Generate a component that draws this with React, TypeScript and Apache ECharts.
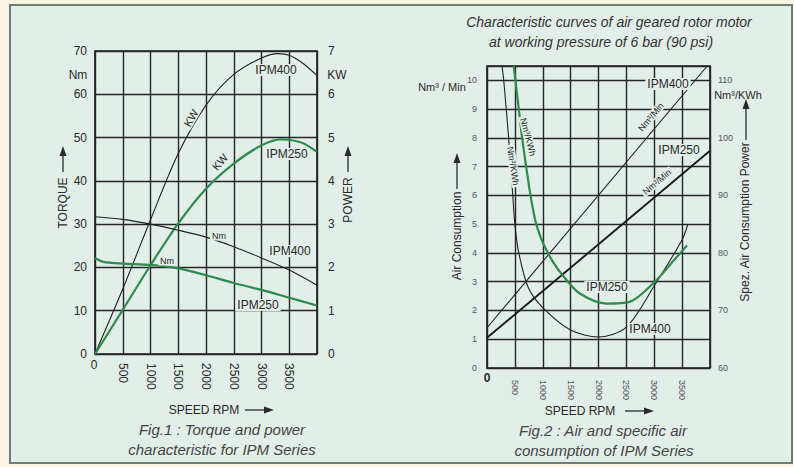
import React, { useEffect, useRef } from "react";
import * as echarts from "echarts";

// ---------- DATA ----------
const rpmTicks = [0, 500, 1000, 1500, 2000, 2500, 3000, 3500, 4000];
const torqueTicks = [0, 10, 20, 30, 40, 50, 60, 70];
const powerTicks = [0, 1, 2, 3, 4, 5, 6, 7];
const airTicks = [0, 1, 2, 3, 4, 5, 6, 7, 8, 9, 10];
const specTicks = [60, 70, 80, 90, 100, 110];

// Fig.1 power (KW) vs rpm
const kwIPM400: [number, number][] = [
  [0, 0], [500, 1.5], [1000, 3.1], [1500, 4.63], [2000, 5.75], [2500, 6.46],
  [3000, 6.84], [3300, 6.94], [3500, 6.9], [3750, 6.71], [4000, 6.43],
];
const kwIPM250: [number, number][] = [
  [0, 0], [500, 1.02], [1000, 2.05], [1500, 3.02], [2000, 3.82], [2500, 4.4],
  [3000, 4.82], [3350, 4.96], [3500, 4.95], [3750, 4.87], [4000, 4.67],
];
// Fig.1 torque (Nm) vs rpm
const nmIPM400: [number, number][] = [
  [0, 31.7], [500, 31.1], [1000, 30.0], [1500, 28.6], [2000, 27.0],
  [2500, 24.8], [3000, 22.2], [3500, 19.4], [4000, 15.9],
];
const nmIPM250: [number, number][] = [
  [0, 22.1], [150, 21.3], [500, 20.9], [1000, 20.6], [1500, 19.8],
  [2000, 18.2], [2500, 16.4], [3000, 14.8], [3500, 13.0], [4000, 11.2],
];
// Fig.2 air consumption (Nm3/Min) vs rpm
const flowIPM400: [number, number][] = [[0, 1.4], [3950, 10.5]];
const flowIPM250: [number, number][] = [[0, 1.05], [4000, 7.55]];
// Fig.2 specific air consumption (Nm3/KWh) vs rpm
const specIPM400: [number, number][] = [
  [270, 112.5], [300, 110], [345, 105], [388, 100], [426, 95], [462, 90],
  [500, 85], [570, 80], [740, 74], [1000, 70.5], [1500, 66.6], [2000, 65.4],
  [2500, 67.1], [3000, 74.3], [3500, 82.3], [3600, 84.9],
];
const specIPM250: [number, number][] = [
  [480, 112.5], [510, 110], [570, 105], [630, 100], [703, 95], [780, 90],
  [870, 85.5], [960, 82.8], [1060, 80.6], [1200, 78.2], [1375, 75.9], [1658, 73],
  [2144, 71.2], [2559, 71.5], [3010, 75], [3333, 78.5], [3586, 81.3],
];

// ---------- STYLE ----------
const FONT = "Liberation Sans, Arial, Helvetica, sans-serif";
const PANEL = "#e2eee8";
const CREAM = "#f7f4e4";
const INK = "#2a2a2a";
const GREEN = "#2f8a4e";
const GRIDC = "#262626";

function txt(text: string, x: number, y: number, o: any = {}) {
  return {
    type: "text",
    x,
    y,
    rotation: o.rotation || 0,
    z: 100,
    style: {
      text,
      fontSize: o.fontSize || 12,
      fontFamily: FONT,
      fontStyle: o.italic ? "italic" : "normal",
      fontWeight: o.bold ? "bold" : "normal",
      fill: o.fill || INK,
      align: "center",
      verticalAlign: "middle",
      backgroundColor: o.bg || undefined,
      padding: o.bg ? [0, 2] : 0,
    },
  };
}
function arrowUp(x: number, yBottom: number, yTop: number) {
  return [
    { type: "line", z: 100, shape: { x1: x, y1: yBottom, x2: x, y2: yTop + 8 }, style: { stroke: INK, lineWidth: 1.3 } },
    { type: "polygon", z: 100, shape: { points: [[x - 3.5, yTop + 10], [x + 3.5, yTop + 10], [x, yTop]] }, style: { fill: INK } },
  ];
}
function arrowRight(xLeft: number, xRight: number, y: number) {
  return [
    { type: "line", z: 100, shape: { x1: xLeft, y1: y, x2: xRight - 8, y2: y }, style: { stroke: INK, lineWidth: 1.3 } },
    { type: "polygon", z: 100, shape: { points: [[xRight - 10, y - 3.5], [xRight - 10, y + 3.5], [xRight, y]] }, style: { fill: INK } },
  ];
}

export default function App() {
  const ref = useRef<HTMLDivElement>(null);
  useEffect(() => {
    if (!ref.current) return;
    const chart = echarts.init(ref.current, undefined, { renderer: "svg" });
    const xAxisBase = (gi: number, fs: number, margin: number, color: string) => ({
      type: "value",
      gridIndex: gi,
      min: rpmTicks[0],
      max: rpmTicks[rpmTicks.length - 1],
      interval: 500,
      axisLine: { show: false },
      axisTick: { show: false },
      splitLine: { show: true, lineStyle: { color: GRIDC, width: 1.4 } },
      axisLabel: {
        rotate: -90,
        fontSize: fs,
        color,
        margin,
        fontFamily: FONT,
        formatter: (v: number) => (v === 0 || v === 4000 ? "" : String(v)),
      },
    });
    const option: any = {
      animation: false,
      backgroundColor: CREAM,
      textStyle: { fontFamily: FONT },
      grid: [
        { left: 95, top: 51, width: 222, height: 303, show: true, borderColor: "#1a1a1a", borderWidth: 1.6, backgroundColor: "transparent" },
        { left: 487, top: 66, width: 223, height: 302, show: true, borderColor: "#1a1a1a", borderWidth: 1.6, backgroundColor: "transparent" },
      ],
      xAxis: [xAxisBase(0, 12, 9, INK), xAxisBase(1, 9, 12, "#555")],
      yAxis: [
        {
          type: "value", gridIndex: 0, min: torqueTicks[0], max: torqueTicks[torqueTicks.length - 1], interval: 10,
          axisLine: { show: false }, axisTick: { show: false },
          splitLine: { show: true, lineStyle: { color: GRIDC, width: 1.4 } },
          axisLabel: { fontSize: 12, color: INK, margin: 8, fontFamily: FONT },
        },
        {
          type: "value", gridIndex: 0, position: "right", min: powerTicks[0], max: powerTicks[powerTicks.length - 1], interval: 1,
          axisLine: { show: false }, axisTick: { show: false }, splitLine: { show: false },
          axisLabel: { fontSize: 12, color: INK, margin: 11, fontFamily: FONT },
        },
        {
          type: "value", gridIndex: 1, min: airTicks[0], max: 10.5, interval: 1,
          axisLine: { show: false }, axisTick: { show: false },
          splitLine: { show: true, lineStyle: { color: GRIDC, width: 1.4 } },
          axisLabel: {
            fontSize: 9, color: "#555", margin: 10, fontFamily: FONT,
            formatter: (v: number) => (airTicks.indexOf(v) >= 0 ? String(v) : ""),
          },
        },
        {
          type: "value", gridIndex: 1, position: "right", min: specTicks[0], max: 112.5, interval: 10,
          axisLine: { show: false }, axisTick: { show: false }, splitLine: { show: false },
          axisLabel: {
            fontSize: 9, color: "#555", margin: 8, fontFamily: FONT,
            formatter: (v: number) => (specTicks.indexOf(v) >= 0 ? String(v) : ""),
          },
        },
      ],
      series: [
        { name: "IPM400 KW", type: "line", xAxisIndex: 0, yAxisIndex: 1, data: kwIPM400, smooth: 0.3, showSymbol: false, lineStyle: { color: "#222", width: 1.1 }, z: 3 },
        { name: "IPM250 KW", type: "line", xAxisIndex: 0, yAxisIndex: 1, data: kwIPM250, smooth: 0.3, showSymbol: false, lineStyle: { color: GREEN, width: 2.2 }, z: 3 },
        { name: "IPM400 Nm", type: "line", xAxisIndex: 0, yAxisIndex: 0, data: nmIPM400, smooth: 0.3, showSymbol: false, lineStyle: { color: "#222", width: 1.1 }, z: 3 },
        { name: "IPM250 Nm", type: "line", xAxisIndex: 0, yAxisIndex: 0, data: nmIPM250, smooth: 0.3, showSymbol: false, lineStyle: { color: GREEN, width: 2.2 }, z: 3 },
        { name: "IPM400 Nm3/Min", type: "line", xAxisIndex: 1, yAxisIndex: 2, data: flowIPM400, showSymbol: false, lineStyle: { color: "#222", width: 1.1 }, z: 3 },
        { name: "IPM250 Nm3/Min", type: "line", xAxisIndex: 1, yAxisIndex: 2, data: flowIPM250, showSymbol: false, lineStyle: { color: "#1a1a1a", width: 1.9 }, z: 3 },
        { name: "IPM400 Nm3/KWh", type: "line", xAxisIndex: 1, yAxisIndex: 3, data: specIPM400, smooth: 0.3, showSymbol: false, lineStyle: { color: "#222", width: 1.1 }, z: 3 },
        { name: "IPM250 Nm3/KWh", type: "line", xAxisIndex: 1, yAxisIndex: 3, data: specIPM250, smooth: 0.3, showSymbol: false, lineStyle: { color: GREEN, width: 2.2 }, z: 3 },
      ],
      graphic: [
        { type: "rect", z: -100, shape: { x: 10, y: 5, width: 782, height: 458 }, style: { fill: PANEL, stroke: "#717c75", lineWidth: 2 } },
        // Fig.1 axis names
        txt("Nm", 78, 75),
        txt("KW", 337, 75),
        txt("TORQUE", 63, 203, { rotation: Math.PI / 2 }),
        ...arrowUp(63, 172, 146),
        txt("POWER", 348, 200, { rotation: Math.PI / 2 }),
        ...arrowUp(348, 172, 146),
        txt("0", 94, 365),
        txt("SPEED RPM", 204, 410),
        ...arrowRight(245, 274, 410),
        txt("Fig.1 : Torque and power", 222, 429, { fontSize: 15, italic: true, fill: "#444" }),
        txt("characteristic for IPM Series", 222, 449, { fontSize: 15, italic: true, fill: "#444" }),
        // Fig.1 curve labels
        txt("KW", 191, 118, { fontSize: 11, rotation: 1.05, bg: PANEL }),
        txt("KW", 220, 162, { fontSize: 11, rotation: 0.87, bg: PANEL }),
        txt("IPM400", 276, 70, { bg: PANEL }),
        txt("IPM250", 287, 154, { bg: PANEL }),
        txt("Nm", 219, 236, { fontSize: 9, bg: PANEL }),
        txt("Nm", 167, 261, { fontSize: 9, bg: PANEL }),
        txt("IPM400", 290, 251, { bg: PANEL }),
        txt("IPM250", 258, 305, { bg: PANEL }),
        // Fig.2 title
        txt("Characteristic curves of air geared rotor motor", 609, 22, { fontSize: 14, italic: true, fill: "#333" }),
        txt("at working pressure of 6 bar (90 psi)", 601, 42, { fontSize: 14, italic: true, fill: "#333" }),
        // Fig.2 axis names
        txt("Nm³ / Min", 442, 87, { fontSize: 11 }),
        txt("Air Consumption", 457, 236, { rotation: Math.PI / 2 }),
        ...arrowUp(457, 189, 153),
        txt("Nm³/KWh", 738, 95, { fontSize: 11 }),
        txt("Spez. Air Consumption Power", 745, 222, { rotation: Math.PI / 2 }),
        ...arrowUp(746, 140, 99),
        txt("0", 487, 378, { fontSize: 12, bold: true }),
        txt("SPEED RPM", 580, 411),
        ...arrowRight(625, 654, 411),
        txt("Fig.2 : Air and specific air", 603, 430, { fontSize: 15, italic: true, fill: "#444" }),
        txt("consumption of IPM Series", 604, 450, { fontSize: 15, italic: true, fill: "#444" }),
        // Fig.2 curve labels
        txt("IPM400", 668, 84, { bg: PANEL }),
        txt("IPM250", 679, 150, { bg: PANEL }),
        txt("Nm³/Min", 651, 117, { fontSize: 9, rotation: 0.87, bg: PANEL }),
        txt("Nm³/Min", 657, 182, { fontSize: 9, rotation: 0.7, bg: PANEL }),
        txt("Nm³/KWh", 528, 137, { fontSize: 9, rotation: -1.31, bg: PANEL }),
        txt("Nm³/KWh", 513, 166, { fontSize: 9, rotation: -1.42, bg: PANEL }),
        txt("IPM250", 607, 287, { bg: PANEL }),
        txt("IPM400", 650, 329, { bg: PANEL }),
      ],
    };
    chart.setOption(option);
    return () => chart.dispose();
  }, []);
  return (
    <div
      ref={ref}
      style={{ position: "fixed", left: 0, top: 0, width: 794, height: 467 }}
    />
  );
}
